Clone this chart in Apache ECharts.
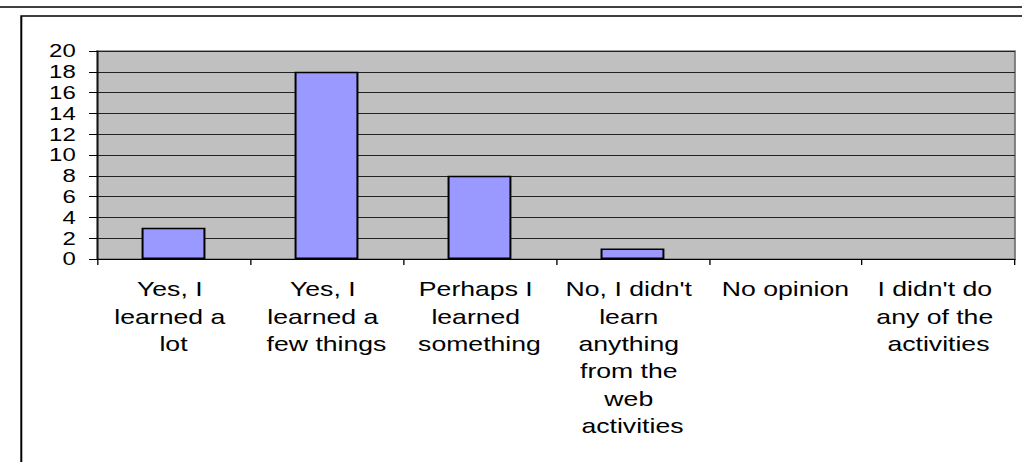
<!DOCTYPE html>
<html>
<head>
<meta charset="utf-8">
<script src="https://cdn.jsdelivr.net/npm/echarts@6/dist/echarts.min.js"></script>
<style>
  html, body { margin: 0; padding: 0; background: #fff; overflow: hidden; }
  #wrap { width: 1022px; height: 462px; overflow: hidden; }
  #chart { width: 768px; height: 462px; transform: scaleX(1.330729); transform-origin: 0 0; }
</style>
</head>
<body>
<div id="wrap"><div id="chart"></div></div>
<script>
const categories = [
  "Yes, I learned a lot",
  "Yes, I learned a few things",
  "Perhaps I learned something",
  "No, I didn't learn anything from the web activities",
  "No opinion",
  "I didn't do any of the activities"
];
const responses = [3, 18, 8, 1, 0, 0];
const yTicks = [0, 2, 4, 6, 8, 10, 12, 14, 16, 18, 20];

const chart = echarts.init(document.getElementById('chart'), null, { renderer: 'svg' });
const font = 'Liberation Sans, Arial, sans-serif';

chart.setOption({
  animation: false,
  backgroundColor: '#fff',
  graphic: [
    { type: 'line', shape: { x1: 0, y1: 7, x2: 800, y2: 7 }, style: { stroke: '#000', lineWidth: 1.5 }, silent: true },
    { type: 'rect', shape: { x: 16, y: 16, width: 900, height: 600 }, style: { stroke: '#000', fill: 'none', lineWidth: 1.5 }, silent: true }
  ],
  grid: {
    left: 72.9, right: 5.3, top: 51, bottom: 203,
    show: true, backgroundColor: '#C0C0C0', borderColor: '#808080', borderWidth: 1.5
  },
  xAxis: {
    type: 'category',
    data: categories,
    axisLine: { lineStyle: { color: '#000', width: 1 } },
    axisTick: { show: true, length: 6, lineStyle: { color: '#000' } },
    axisLabel: {
      interval: 0, margin: 17, color: '#000', fontFamily: font, fontSize: 20,
      lineHeight: 27.3, width: 105, overflow: 'break', align: 'center'
    }
  },
  yAxis: {
    type: 'value',
    min: yTicks[0], max: yTicks[yTicks.length - 1], interval: 2,
    axisLine: { show: true, lineStyle: { color: '#000', width: 1 } },
    axisTick: { show: true, length: 6, lineStyle: { color: '#000' } },
    axisLabel: { margin: 16, color: '#000', fontFamily: font, fontSize: 18 },
    splitLine: { show: true, lineStyle: { color: '#222', width: 1 } }
  },
  series: [{
    type: 'bar',
    data: responses.map(v => ({
      value: v,
      itemStyle: { borderWidth: v === 0 ? 0 : 1.5 }
    })),
    barWidth: 48,
    itemStyle: { color: '#9999FF', borderColor: '#000', borderWidth: 1.5 }
  }]
});
</script>
</body>
</html>
